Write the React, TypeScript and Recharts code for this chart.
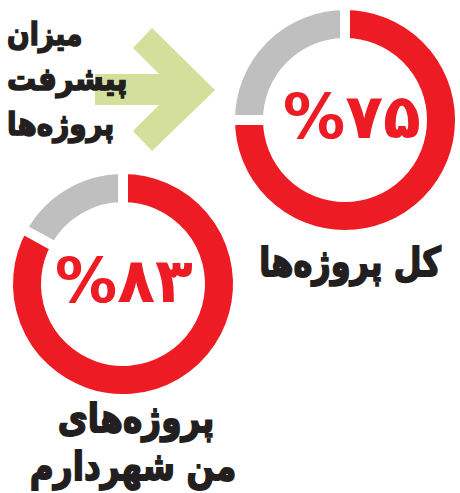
import React from 'react';
import { PieChart, Pie, Cell } from 'recharts';

const segmentNames = ['انجام‌شده', 'باقی‌مانده'];
const allProjectsValues = [75, 25];
const myProjectsValues = [83, 17];
const segmentColors = ['#ed1c24', '#bfbfbf'];
const allProjectsTitle = ['کل پروژه\u200cها'];
const myProjectsTitle = ['پروژه\u200cهای', 'من شهردارم'];
const headingLines = ['میزان', 'پیشرفت', 'پروژه\u200cها'];

const toFa = (n: number) => String(n).replace(/\d/g, (d) => '۰۱۲۳۴۵۶۷۸۹'[Number(d)]);

const allData = segmentNames.map((name, i) => ({ name, value: allProjectsValues[i] }));
const myData = segmentNames.map((name, i) => ({ name, value: myProjectsValues[i] }));

const W = 460;
const H = 493;
const FONT = '"DejaVu Sans", sans-serif';
const INK = '#231f20';

const headingScale = [0.83, 0.91, 0.87];
const myTitleX = [136, 133];

export default function App() {
  return (
    <div style={{ position: 'absolute', left: 0, top: 0, width: W, height: H, background: '#fff' }}>
      <svg width={W} height={H} style={{ position: 'absolute', left: 0, top: 0 }}>
        <polygon
          points="95,74 159,74 133,48 152,28 215,90 152,151 133,131 159,105 95,105"
          fill="#d4df9b"
        />
        {headingLines.map((t, i) => (
          <g key={i} transform={`translate(7, ${45 + i * 45}) scale(${headingScale[i]}, 1)`}>
            <text
              x={0}
              y={0}
              fontFamily={FONT}
              fontWeight="bold"
              fontSize={32}
              fill={INK}
              stroke={INK}
              strokeWidth={1.6}
              textAnchor="start"
            >
              {t}
            </text>
          </g>
        ))}
      </svg>
      <div style={{ position: 'absolute', left: 0, top: 0 }}>
        <PieChart width={W} height={H} margin={{ top: 0, right: 0, bottom: 0, left: 0 }}>
          <Pie
            data={allData}
            dataKey="value"
            nameKey="name"
            cx={345}
            cy={120}
            innerRadius={77}
            outerRadius={115}
            startAngle={90}
            endAngle={-270}
            stroke="#ffffff"
            strokeWidth={10}
            isAnimationActive={false}
          >
            {allData.map((d, i) => (
              <Cell key={d.name} fill={segmentColors[i]} />
            ))}
          </Pie>
          <Pie
            data={myData}
            dataKey="value"
            nameKey="name"
            cx={123}
            cy={284}
            innerRadius={77}
            outerRadius={115}
            startAngle={90}
            endAngle={-270}
            stroke="#ffffff"
            strokeWidth={10}
            isAnimationActive={false}
          >
            {myData.map((d, i) => (
              <Cell key={d.name} fill={segmentColors[i]} />
            ))}
          </Pie>
        </PieChart>
      </div>
      <svg width={W} height={H} style={{ position: 'absolute', left: 0, top: 0, pointerEvents: 'none' }}>
        <text x={352} y={138} fontFamily={FONT} fontWeight="bold" fontSize={62} fill="#ed1c24" textAnchor="middle">
          {'%' + toFa(allProjectsValues[0])}
        </text>
        <text x={124} y={302} fontFamily={FONT} fontWeight="bold" fontSize={62} fill="#ed1c24" textAnchor="middle">
          {'%' + toFa(myProjectsValues[0])}
        </text>
        {allProjectsTitle.map((t, i) => (
          <g key={i} transform={`translate(350, 276) scale(0.8, 1)`}>
            <text
              x={0}
              y={0}
              fontFamily={FONT}
              fontWeight="bold"
              fontSize={40}
              fill={INK}
              stroke={INK}
              strokeWidth={1.8}
              textAnchor="middle"
            >
              {t}
            </text>
          </g>
        ))}
        {myProjectsTitle.map((t, i) => (
          <g key={i} transform={`translate(${myTitleX[i]}, ${432 + i * 48}) scale(0.82, 1)`}>
            <text
              x={0}
              y={0}
              fontFamily={FONT}
              fontWeight="bold"
              fontSize={40}
              fill={INK}
              stroke={INK}
              strokeWidth={1.8}
              textAnchor="middle"
            >
              {t}
            </text>
          </g>
        ))}
      </svg>
    </div>
  );
}
